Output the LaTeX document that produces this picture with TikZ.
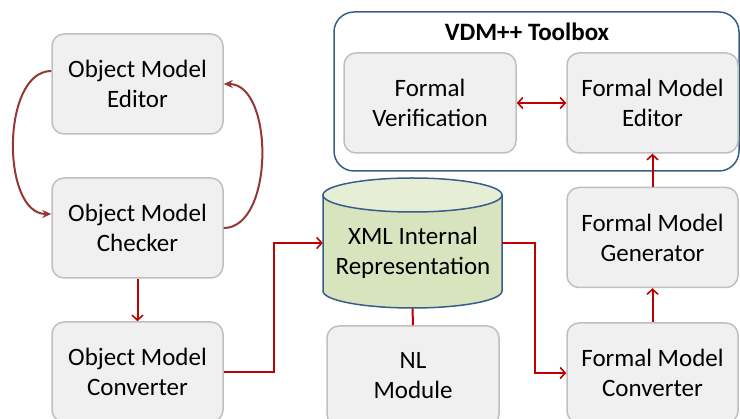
\documentclass[tikz,border=0pt]{standalone}
\usepackage{fontspec}
\setmainfont{Carlito}
\usetikzlibrary{arrows.meta}
\definecolor{boxfill}{HTML}{F0F0F0}
\definecolor{boxline}{HTML}{BFBFBF}
\definecolor{arrred}{HTML}{C00000}
\definecolor{curvred}{HTML}{953735}
\definecolor{bluel}{HTML}{385D8A}
\definecolor{cylbody}{HTML}{D7E4BD}
\definecolor{cyltop}{HTML}{E6EED6}
\tikzset{
  box/.style={draw=boxline, fill=boxfill, line width=1.5pt, rounded corners=12pt,
    minimum width=171pt, minimum height=100pt, align=center,
    font=\fontsize{25}{30}\selectfont, text=black},
  vdmbox/.style={draw=bluel, line width=1.5pt, rounded corners=20pt},
  redarr/.style={draw=arrred, line width=2pt, -{Straight Barb[length=5pt,width=11pt,line width=1.6pt]}},
  redline/.style={draw=arrred, line width=2pt},
  curvarr/.style={draw=curvred, line width=2pt, -{Stealth[length=9pt,width=8pt]}},
  cylline/.style={draw=bluel, line width=1.5pt},
}
\begin{document}
\begin{tikzpicture}[x=1pt,y=-1pt]
\useasboundingbox (0,0) rectangle (740,419);
% VDM toolbox container
\node[vdmbox, minimum width=405pt, minimum height=159pt] (vdm) at (536.5,91.5) {};
\node[font=\fontsize{25}{30}\selectfont\bfseries] (vdmt) at (527,32) {VDM++ Toolbox};
% boxes
\node[box] (ome) at (137.5,84) {Object Model\\Editor};
\node[box] (omc) at (137.5,228) {Object Model\\Checker};
\node[box] (omv) at (137.5,372) {Object Model\\Converter};
\node[box, minimum width=172pt] (nl) at (413,376) {NL\\Module};
\node[box, minimum width=172pt] (fv) at (430,103) {Formal\\Verification};
\node[box] (fme) at (652.5,103) {Formal Model\\Editor};
\node[box] (fmg) at (652.5,237.5) {Formal Model\\Generator};
\node[box] (fmc) at (652.5,373) {Formal Model\\Converter};
% cylinder anchor node
\node[minimum width=179pt, minimum height=130pt, inner sep=0pt] (cyl) at (412.5,243) {};
% connector cylinder -- NL (drawn under cylinder)
\draw[redline] (cyl.south) -- (nl.north);
% cylinder drawing
\fill[cylbody] (323,195) rectangle (502,291);
\fill[cylbody] (412.5,291) ellipse [x radius=89.5pt, y radius=17pt];
\draw[cylline] (323,195) -- (323,291) arc[start angle=180, end angle=360, x radius=89.5pt, y radius=17pt] -- (502,195);
\filldraw[cylline, fill=cyltop] (412.5,195) ellipse [x radius=89.5pt, y radius=17pt];
\node[align=center, font=\fontsize{25}{30}\selectfont] (cylt) at (413,253) {XML Internal\\Representation};
% curved arrows
\draw[curvarr] ([yshift=13pt]ome.west) to[out=180,in=180,looseness=0.9] ([yshift=14pt]omc.west);
\draw[curvarr] (omc.east) to[out=0,in=0,looseness=0.9] (ome.east);
% red connectors
\draw[redarr] (omc.south) -- (omv.north);
\draw[redarr] (omv.east) -- (274,372) -- (274,243) -- (cyl.west);
\draw[redarr] (cyl.east) -- (535,243) -- (535,373) -- (fmc.west);
\draw[redarr] (fmc.north) -- (fmg.south);
\draw[redarr] (fmg.north) -- (fme.south);
\draw[redarr, {Straight Barb[length=5pt,width=11pt,line width=1.6pt]}-{Straight Barb[length=5pt,width=11pt,line width=1.6pt]}] (fv.east) -- (fme.west);
\end{tikzpicture}
\end{document}
